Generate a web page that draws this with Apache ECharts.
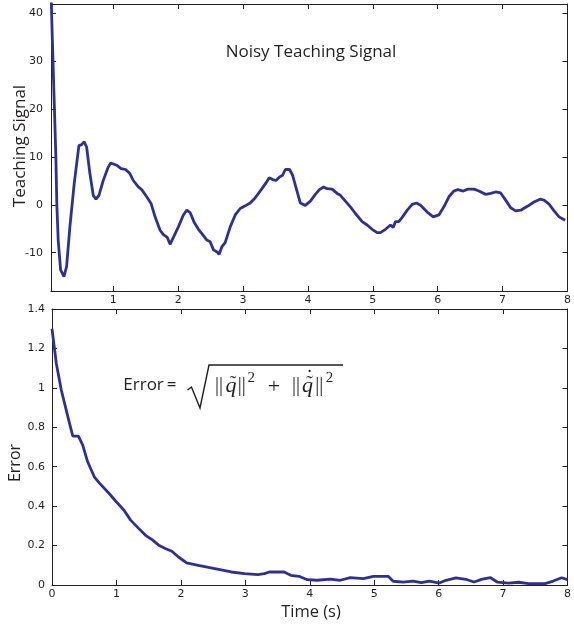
<!DOCTYPE html>
<html>
<head>
<meta charset="utf-8">
<script src="https://cdn.jsdelivr.net/npm/echarts@6/dist/echarts.min.js"></script>
<style>
html,body{margin:0;padding:0;background:#fff;}
#c{width:574px;height:627px;}
</style>
</head>
<body>
<div id="c"></div>
<script>
// ---- Data ----
const teachT = [0.04,0.058,0.089,0.115,0.130,0.151,0.188,0.239,0.280,0.331,0.398,0.470,0.512,0.552,0.589,0.640,0.691,0.733,0.779,0.845,0.922,0.960,1.052,1.119,1.191,1.258,1.308,1.386,1.438,1.515,1.582,1.644,1.721,1.772,1.833,1.875,1.926,2.003,2.080,2.133,2.184,2.250,2.312,2.365,2.442,2.493,2.544,2.596,2.632,2.673,2.724,2.802,2.879,2.956,3.033,3.110,3.188,3.291,3.353,3.404,3.455,3.507,3.558,3.609,3.651,3.717,3.763,3.816,3.882,3.959,4.037,4.114,4.176,4.242,4.295,4.372,4.449,4.500,4.577,4.654,4.732,4.835,4.912,4.989,5.066,5.117,5.195,5.272,5.313,5.349,5.400,5.452,5.530,5.607,5.673,5.735,5.838,5.931,6.018,6.095,6.172,6.249,6.311,6.394,6.465,6.558,6.635,6.739,6.816,6.893,6.970,7.047,7.124,7.202,7.279,7.382,7.484,7.577,7.638,7.716,7.793,7.870,7.963];
const teachV = [45,35.8,21.8,10,0,-7.4,-13.6,-15,-12.9,-4.6,4.5,12.4,12.6,13.2,12.1,6.5,2,1.2,2,5.1,7.9,8.75,8.3,7.6,7.4,6.5,5.1,3.75,3.2,1.7,0.3,-2.5,-5.3,-6.2,-6.8,-8.25,-6.8,-4.6,-2.1,-1.1,-1.6,-3.75,-5.1,-6.0,-7.35,-7.7,-9.4,-9.8,-10.3,-8.75,-7.9,-4.6,-2.1,-0.75,-0.2,0.4,1.5,3.4,4.6,5.7,5.3,5.1,5.8,6.2,7.4,7.4,6.2,3.6,0.4,-0.1,0.8,2.2,3.2,3.75,3.4,3.3,2.4,2,0.8,-0.4,-1.8,-3.5,-4.2,-5.1,-5.8,-5.8,-5.1,-4.2,-4.7,-3.5,-3.5,-2.6,-1.1,0.1,0.4,-0.06,-1.5,-2.5,-2.1,-0.4,1.7,2.9,3.2,2.9,3.3,3.3,2.9,2.2,2.4,2.7,2.5,1,-0.6,-1.25,-1.1,-0.3,0.6,1.2,1,0.15,-1.25,-2.5,-3.2];

const errT = [0,0.067,0.144,0.221,0.272,0.323,0.41,0.477,0.553,0.656,0.733,0.887,0.99,1.118,1.22,1.348,1.451,1.553,1.656,1.758,1.86,1.963,2.09,2.27,2.527,2.783,2.988,3.193,3.296,3.373,3.603,3.705,3.834,3.962,4.116,4.32,4.474,4.628,4.833,4.987,5.218,5.295,5.448,5.602,5.73,5.857,6.011,6.114,6.268,6.422,6.549,6.678,6.806,6.909,7.087,7.241,7.395,7.651,7.779,7.908,8.0];
const errV = [1.30,1.124,0.989,0.887,0.82,0.755,0.755,0.709,0.625,0.549,0.518,0.464,0.425,0.379,0.329,0.286,0.252,0.23,0.202,0.185,0.171,0.142,0.112,0.1,0.083,0.066,0.058,0.053,0.058,0.066,0.066,0.049,0.044,0.027,0.024,0.03,0.024,0.037,0.032,0.044,0.044,0.019,0.015,0.02,0.012,0.02,0.01,0.024,0.036,0.029,0.015,0.03,0.037,0.015,0.01,0.014,0.007,0.007,0.02,0.037,0.027];

const topXTicks = [1,2,3,4,5,6,7,8];
const topYTicks = [-10,0,10,20,30,40];

// ---- Styles ----
const ink = '#231f20';
const lineColor = '#2e3192';
const tickFont = {color: ink, fontFamily: 'DejaVu Sans', fontSize: 11};
const titleFont = 'Open Sans';
const mathFont = '"Liberation Serif", "DejaVu Serif", serif';

const teachData = teachT.map((t, i) => [t, teachV[i]]);
const errData = errT.map((t, i) => [t, errV[i]]);

function axisLine() { return {show: true, onZero: false, lineStyle: {color: ink, width: 1}}; }
function mtext(x, y, text, font) {
  return {type: 'text', x: x, y: y, style: {text: text, fill: ink, font: font,
    textAlign: 'center', textVerticalAlign: 'middle'}};
}

const chart = echarts.init(document.getElementById('c'), null, {renderer: 'canvas'});

const option = {
  animation: false,
  backgroundColor: '#fff',
  grid: [
    {left: 51, right: 6, top: 4, height: 287},
    {left: 52, right: 1, top: 309, height: 276}
  ],
  xAxis: [
    {gridIndex: 0, type: 'value', min: 0.04, max: 8, position: 'bottom',
     axisLine: axisLine(),
     axisTick: {show: true, inside: true, length: 5, customValues: topXTicks, lineStyle: {color: ink}},
     axisLabel: Object.assign({margin: 4, customValues: topXTicks}, tickFont),
     splitLine: {show: false}},
    {gridIndex: 1, type: 'value', min: 0, max: 8, interval: 1, position: 'bottom',
     axisLine: axisLine(),
     axisTick: {show: true, inside: true, length: 5, lineStyle: {color: ink}},
     axisLabel: Object.assign({margin: 4}, tickFont),
     splitLine: {show: false}},
    {gridIndex: 0, type: 'value', min: 0.04, max: 8, position: 'top',
     axisLine: axisLine(),
     axisTick: {show: true, inside: true, length: 5, customValues: topXTicks, lineStyle: {color: ink}},
     axisLabel: {show: false}, splitLine: {show: false}},
    {gridIndex: 1, type: 'value', min: 0, max: 8, interval: 1, position: 'top',
     axisLine: axisLine(),
     axisTick: {show: true, inside: true, length: 5, lineStyle: {color: ink}},
     axisLabel: {show: false}, splitLine: {show: false}}
  ],
  yAxis: [
    {gridIndex: 0, type: 'value', min: -18, max: 42, position: 'left',
     axisLine: axisLine(),
     axisTick: {show: true, inside: true, length: 5, customValues: topYTicks, lineStyle: {color: ink}},
     axisLabel: Object.assign({margin: 8, customValues: topYTicks}, tickFont),
     splitLine: {show: false}},
    {gridIndex: 1, type: 'value', min: 0, max: 1.4, interval: 0.2, position: 'left',
     axisLine: axisLine(),
     axisTick: {show: true, inside: true, length: 5, lineStyle: {color: ink}},
     axisLabel: Object.assign({margin: 7}, tickFont),
     splitLine: {show: false}},
    {gridIndex: 0, type: 'value', min: -18, max: 42, position: 'right',
     axisLine: axisLine(),
     axisTick: {show: true, inside: true, length: 5, customValues: topYTicks, lineStyle: {color: ink}},
     axisLabel: {show: false}, splitLine: {show: false}},
    {gridIndex: 1, type: 'value', min: 0, max: 1.4, interval: 0.2, position: 'right',
     axisLine: axisLine(),
     axisTick: {show: true, inside: true, length: 5, lineStyle: {color: ink}},
     axisLabel: {show: false}, splitLine: {show: false}}
  ],
  series: [
    {type: 'line', xAxisIndex: 0, yAxisIndex: 0, data: teachData, showSymbol: false,
     clip: true, lineStyle: {color: lineColor, width: 2.8}, itemStyle: {color: lineColor}},
    {type: 'line', xAxisIndex: 1, yAxisIndex: 1, data: errData, showSymbol: false,
     clip: true, lineStyle: {color: lineColor, width: 2.8}, itemStyle: {color: lineColor}}
  ],
  graphic: [
    {type: 'text', x: 225.7, y: 52, style: {text: 'Noisy Teaching Signal', fill: ink,
      font: '17px "' + titleFont + '"', textAlign: 'left', textVerticalAlign: 'middle'}},
    {type: 'text', x: 20.5, y: 146, rotation: Math.PI / 2, style: {text: 'Teaching Signal', fill: ink,
      font: '17px "' + titleFont + '"', textAlign: 'center', textVerticalAlign: 'middle'}},
    {type: 'text', x: 15, y: 463, rotation: Math.PI / 2, style: {text: 'Error', fill: ink,
      font: '16px "' + titleFont + '"', textAlign: 'center', textVerticalAlign: 'middle'}},
    {type: 'text', x: 311, y: 612, style: {text: 'Time (s)', fill: ink,
      font: '16.5px "' + titleFont + '"', textAlign: 'center', textVerticalAlign: 'middle'}},
    // Formula
    {type: 'text', x: 123.3, y: 385, style: {text: 'Error\u2009=', fill: ink,
      font: '17px "' + titleFont + '"', textAlign: 'left', textVerticalAlign: 'middle'}},
    {type: 'polyline', shape: {points: [[187.5, 390], [191.5, 387], [200, 408], [209, 365], [343, 365]]},
      style: {stroke: ink, lineWidth: 1.4, fill: null}},
    mtext(219, 386, '||', '20px ' + mathFont),
    mtext(231, 386, 'q', 'italic 22px ' + mathFont),
    mtext(233, 385, '˜', '20px ' + mathFont),
    mtext(241.7, 386, '||', '20px ' + mathFont),
    mtext(251.3, 378, '2', '15px ' + mathFont),
    mtext(274, 387, '+', '22px ' + mathFont),
    mtext(296, 386, '||', '20px ' + mathFont),
    mtext(307.5, 386, 'q', 'italic 22px ' + mathFont),
    mtext(309.5, 385, '˜', '20px ' + mathFont),
    mtext(309.5, 379, '˙', '20px ' + mathFont),
    mtext(319.2, 386, '||', '20px ' + mathFont),
    mtext(329.5, 378, '2', '15px ' + mathFont)
  ]
};
chart.setOption(option);
</script>
</body>
</html>
